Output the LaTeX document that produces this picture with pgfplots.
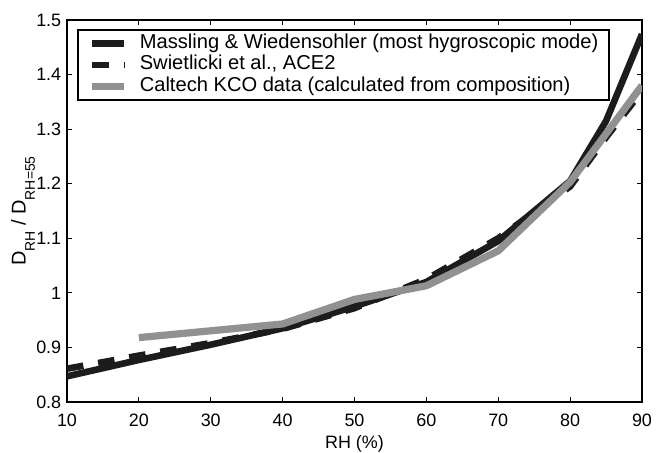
\documentclass[border=0pt]{standalone}
\usepackage{pgfplots}
\pgfplotsset{compat=1.18}
\usepackage{fontspec}
\setmainfont{Liberation Sans}
\definecolor{lgray}{RGB}{145,145,145}
\definecolor{dblack}{RGB}{28,28,28}
\newcommand{\sbx}[1]{\raisebox{-4.6bp}{\fontsize{7}{7}\selectfont #1}}
\begin{document}
\begin{tikzpicture}
\begin{axis}[
  scale only axis,
  width=287.5bp, height=191bp,
  xmin=10, xmax=90, ymin=0.8, ymax=1.5,
  xtick={10,20,...,90},
  ytick={0.8,0.9,1,1.1,1.2,1.3,1.4,1.5},
  yticklabels={0.8,0.9,1,1.1,1.2,1.3,1.4,1.5},
  tick align=inside,
  major tick length=2.6bp,
  axis line style={line width=1.1bp},
  every tick/.style={line width=0.6bp, black},
  font=\fontsize{9}{10}\selectfont,
  /pgf/number format/assume math mode=true,
  xticklabel style={anchor=center, yshift=-9.25bp},
  yticklabel style={anchor=east, inner sep=2.7bp},
  xlabel={RH (\%)},
  ylabel={D\sbx{RH} / D\sbx{RH=55}},
  every axis x label/.style={at={(axis description cs:0.5,0)}, anchor=center, yshift=-20.75bp},
  every axis y label/.style={at={(axis description cs:0,0.5)}, rotate=90, anchor=center, yshift=22bp, font=\fontsize{10}{11}\selectfont},
  legend style={at={(axis description cs:0,1)}, anchor=north west, xshift=4.85bp, yshift=-4.5bp,
    draw=black, line width=0.9bp,
    font=\fontsize{10.1}{10.8}\selectfont,
    nodes={inner sep=0bp, text height=7.3bp, text depth=2.2bp},
    row sep=1.3bp, inner xsep=5.5bp, inner ysep=1.95bp,
    /tikz/every odd column/.append style={column sep=6bp}},
  legend cell align=left,
  legend image code/.code={\draw[#1] (0bp,0bp) -- (16bp,0bp);},
]
\addplot[dblack, line width=3.3bp] coordinates {
(10,0.847) (20,0.877) (30,0.905) (40,0.935) (50,0.975) (60,1.02) (70,1.095) (80,1.205) (85,1.315) (90,1.474)};
\addlegendentry{Massling \& Wiedensohler (most hygroscopic mode)}
\addplot[dblack, line width=3.3bp, dash pattern=on 8.3bp off 7.5bp] coordinates {
(10,0.861) (20,0.885) (30,0.908) (40,0.934) (50,0.972) (60,1.025) (70,1.10) (80,1.195) (85,1.285) (90,1.37)};
\addlegendentry{Swietlicki et al., ACE2}
\addplot[lgray, line width=3.6bp] coordinates {
(20,0.918) (40,0.943) (50,0.988) (60,1.013) (70,1.077) (80,1.203) (90,1.38)};
\addlegendentry{Caltech KCO data (calculated from composition)}
\end{axis}
\pgfresetboundingbox
\path ([shift={(-33.5bp,-25.5bp)}]current axis.south west) rectangle ([shift={(7bp,10bp)}]current axis.north east);
\end{tikzpicture}
\end{document}
